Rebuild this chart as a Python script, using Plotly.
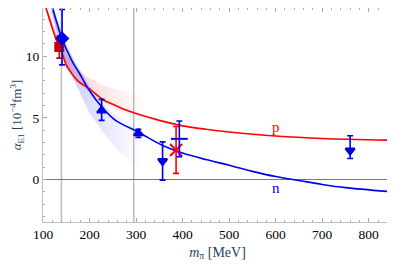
import plotly.graph_objects as go

# proton curve
m_p = [105, 120, 130, 140, 150, 160, 175, 200, 230, 250, 270, 300, 350, 400, 450, 500, 600, 700, 850]
a_p = [14.1, 12.3, 11.2, 10.4, 9.3, 8.7, 8.0, 7.35, 6.45, 6.1, 5.76, 5.35, 4.8, 4.35, 4.08, 3.86, 3.53, 3.33, 3.19]
# neutron curve
m_n = [116, 130, 141, 160, 180, 200, 226, 256, 304, 356, 400, 450, 500, 550, 600, 650, 700, 750, 850]
a_n = [14.5, 12.7, 11.4, 9.8, 8.5, 7.2, 5.9, 4.8, 3.86, 2.78, 2.15, 1.62, 1.16, 0.66, 0.24, -0.08, -0.4, -0.66, -1.0]

# bands
mb_p = [110, 130, 150, 170, 200, 230, 260, 290, 320]
up_p = [13.8, 11.7, 10.1, 9.1, 8.2, 7.65, 7.3, 7.05, 6.95]
lo_p = [13.15, 10.95, 9.05, 7.95, 7.1, 6.2, 5.6, 5.2, 4.9]
mb_n = [118, 130, 150, 170, 200, 230, 260, 290, 310]
up_n = [14.55, 13.05, 10.95, 9.45, 7.6, 6.1, 5.05, 4.45, 4.1]
lo_n = [13.6, 11.9, 9.4, 7.8, 5.4, 3.8, 2.4, 1.4, 0.9]

# data points
pts = [
    # m, alpha, err+, err-, symbol, color, size
    (135, 10.75, 0.9, 0.9, "square", "rgb(200,0,0)", 8),
    (141, 11.45, 2.35, 2.15, "diamond", "rgb(0,0,230)", 9),
    (226, 5.6, 0.9, 0.8, "triangle-up", "rgb(0,0,230)", 8),
    (305, 3.75, 0.33, 0.33, "triangle-up", "rgb(0,0,230)", 8),
    (357, 1.5, 1.55, 1.55, "triangle-down", "rgb(0,0,230)", 8),
    (386, 2.4, 1.9, 1.9, "x-thin", "rgb(255,0,0)", 12),
    (393, 3.3, 1.45, 1.45, "line-ew", "rgb(0,0,230)", 12),
    (760, 2.35, 1.2, 0.65, "triangle-down", "rgb(0,0,230)", 8),
]

fig = go.Figure()

def band(m, lo, up, rgb, a0):
    fig.add_trace(go.Scatter(
        x=m + m[::-1], y=up + lo[::-1], fill="toself", mode="lines",
        line=dict(width=0), hoverinfo="skip", showlegend=False,
        fillgradient=dict(type="horizontal",
                          colorscale=[[0, f"rgba({rgb},{a0})"], [0.4, f"rgba({rgb},{a0*0.55})"], [1, f"rgba({rgb},0)"]]),
    ))

band(mb_p, lo_p, up_p, "255,70,70", 0.34)
band(mb_n, lo_n, up_n, "60,60,255", 0.34)

fig.add_trace(go.Scatter(x=m_p, y=a_p, mode="lines", line=dict(color="rgb(255,0,0)", width=1.6, shape="spline"), showlegend=False))
fig.add_trace(go.Scatter(x=m_n, y=a_n, mode="lines", line=dict(color="rgb(0,0,235)", width=1.6, shape="spline"), showlegend=False))

for m, a, ep, em, sym, col, sz in pts:
    fig.add_trace(go.Scatter(
        x=[m], y=[a], mode="markers", showlegend=False,
        marker=dict(symbol=sym, size=sz, color=col, line=dict(color=col, width=2)),
        error_y=dict(type="data", symmetric=False, array=[ep], arrayminus=[em], color=col, thickness=1.6, width=3),
    ))

fig.add_annotation(x=601, y=4.3, text="p", showarrow=False, font=dict(color="rgb(255,0,0)", size=15, family="Liberation Serif"))
fig.add_annotation(x=601, y=-0.65, text="n", showarrow=False, font=dict(color="rgb(0,0,235)", size=15, family="Liberation Serif"))

shapes = [
    dict(type="line", xref="x", yref="paper", x0=139.6, x1=139.6, y0=0, y1=1, line=dict(color="rgb(190,190,190)", width=1.6), layer="below"),
    dict(type="line", xref="x", yref="paper", x0=295, x1=295, y0=0, y1=1, line=dict(color="rgb(190,190,190)", width=1.6), layer="below"),
    dict(type="line", xref="paper", yref="y", x0=0, x1=1, y0=0, y1=0, line=dict(color="rgb(120,120,120)", width=1), layer="below"),
]

axis_common = dict(showgrid=False, zeroline=False, showline=True, linecolor="rgb(190,190,190)", linewidth=1,
                   mirror="ticks", ticks="inside", tickcolor="rgb(170,170,170)", ticklen=4, automargin=False,
                   tickfont=dict(family="Liberation Serif", size=13.5, color="black"))

# the page body adds an 8px offset, so the figure is sized to fit the 395x274 window
fig.update_layout(
    width=387, height=266, margin=dict(l=35, r=3, t=0, b=52),
    paper_bgcolor="white", plot_bgcolor="white", shapes=shapes,
    xaxis=dict(range=[100, 850], tickvals=[100, 200, 300, 400, 500, 600, 700, 800],
               minor=dict(dtick=20, ticks="inside", ticklen=2, tickcolor="rgb(170,170,170)"),
               title=dict(text="<i>m</i><sub>π</sub> [MeV]", font=dict(family="Liberation Serif", size=14), standoff=5),
               **axis_common),
    yaxis=dict(range=[-3.45, 13.92], tickvals=[0, 5, 10],
               minor=dict(dtick=1, ticks="inside", ticklen=2, tickcolor="rgb(170,170,170)"),
               title=dict(text="<i>α</i><sub>E1</sub> [10<sup>−4</sup>fm<sup>3</sup>]", font=dict(family="Liberation Serif", size=13), standoff=4),
               **axis_common),
)

fig.write_html("out.html")
